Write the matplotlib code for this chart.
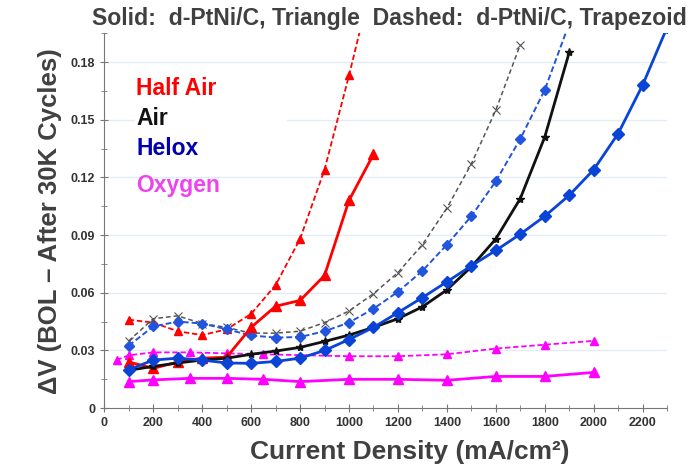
import numpy as np
import matplotlib.pyplot as plt
from matplotlib.patches import Rectangle

plt.rcParams['font.family'] = ['Liberation Sans', 'DejaVu Sans']
plt.rcParams['font.weight'] = 'bold'

# Half Air (red)
half_air_dash_x = [100, 200, 300, 400, 500, 600, 700, 800, 900, 1000, 1100]
half_air_dash_y = [0.046, 0.0445, 0.040, 0.038, 0.041, 0.049, 0.064, 0.088, 0.124, 0.173, 0.225]
half_air_x = [100, 200, 300, 400, 500, 600, 700, 800, 900, 1000, 1100]
half_air_y = [0.024, 0.0207, 0.024, 0.026, 0.0265, 0.042, 0.053, 0.056, 0.069, 0.108, 0.132]

# Air (black / gray)
air_dash_x = [100, 200, 300, 400, 500, 600, 700, 800, 900, 1000, 1100, 1200, 1300, 1400, 1500, 1600, 1700]
air_dash_y = [0.035, 0.0465, 0.048, 0.044, 0.042, 0.039, 0.039, 0.040, 0.0445, 0.0505, 0.0595,
              0.0705, 0.085, 0.104, 0.127, 0.155, 0.189]
air_x = [100, 200, 300, 400, 500, 600, 700, 800, 900, 1000, 1100, 1200, 1300, 1400, 1500, 1600, 1700, 1800, 1900]
air_y = [0.0197, 0.0217, 0.0235, 0.025, 0.026, 0.028, 0.0297, 0.0316, 0.0347, 0.038, 0.042,
         0.0465, 0.0527, 0.0615, 0.0735, 0.088, 0.109, 0.141, 0.185]

# Helox (blue)
helox_dash_x = [100, 200, 300, 400, 500, 600, 700, 800, 900, 1000, 1100, 1200, 1300, 1400, 1500,
                1600, 1700, 1800, 1900]
helox_dash_y = [0.0325, 0.0425, 0.045, 0.044, 0.041, 0.0378, 0.0367, 0.037, 0.040, 0.0445, 0.0517,
                0.0605, 0.0714, 0.085, 0.0998, 0.118, 0.140, 0.1655, 0.20]
helox_x = [100, 200, 300, 400, 500, 600, 700, 800, 900, 1000, 1100, 1200, 1300, 1400, 1500, 1600,
           1700, 1800, 1900, 2000, 2100, 2200, 2300]
helox_y = [0.020, 0.025, 0.026, 0.025, 0.0235, 0.0233, 0.0243, 0.026, 0.030, 0.0357, 0.042, 0.0497,
           0.0575, 0.0657, 0.074, 0.082, 0.0905, 0.0998, 0.1107, 0.124, 0.1428, 0.168, 0.198]

# Oxygen (magenta)
oxy_dash_x = [50, 100, 200, 350, 500, 650, 1000, 1200, 1400, 1600, 1800, 2000]
oxy_dash_y = [0.025, 0.0275, 0.029, 0.029, 0.0285, 0.028, 0.027, 0.027, 0.028, 0.031, 0.033, 0.035]
oxy_x = [100, 200, 350, 500, 650, 800, 1000, 1200, 1400, 1600, 1800, 2000]
oxy_y = [0.0138, 0.0147, 0.0155, 0.0155, 0.015, 0.0138, 0.015, 0.015, 0.0145, 0.0165, 0.0165, 0.0186]

fig = plt.figure(figsize=(7, 4.67), dpi=100)
ax = fig.add_axes([0.149, 0.126, 0.804, 0.803])

ax.set_xlim(0, 2300)
ax.set_ylim(0, 0.195)
ax.set_xticks(np.arange(0, 2201, 200))
ax.set_xticks(np.arange(0, 2301, 100), minor=True)
ax.set_yticks([0, 0.03, 0.06, 0.09, 0.12, 0.15, 0.18])
ax.set_yticklabels(['0', '0.03', '0.06', '0.09', '0.12', '0.15', '0.18'])
ax.set_yticks(np.arange(0, 0.195, 0.015), minor=True)
for y in [0.03, 0.06, 0.09, 0.12, 0.15, 0.18]:
    ax.axhline(y, color='#e2ebf9', lw=1, zorder=0)

# white box behind the labels
ax.add_patch(Rectangle((0.055, 0.66), 0.27, 0.16, transform=ax.transAxes,
                       facecolor='white', edgecolor='none', zorder=0.5))

# dashed series
ax.plot(half_air_dash_x, half_air_dash_y, '--', color='#ff0000', lw=1.3, dashes=(3, 1.5),
        marker='^', ms=6, zorder=3)
ax.plot(air_dash_x, air_dash_y, '--', color='#555555', lw=1.1, dashes=(3, 2),
        marker='x', ms=6, mew=0.8, zorder=3)
ax.plot(helox_dash_x, helox_dash_y, '--', color='#2255dd', lw=1.4, dashes=(3, 1.5),
        marker='D', ms=5, zorder=3)
ax.plot(oxy_dash_x, oxy_dash_y, '--', color='#ff00ff', lw=1.3, dashes=(3, 1.5),
        marker='^', ms=6, zorder=3)

# solid series
ax.plot(half_air_x, half_air_y, '-', color='#ff0000', lw=2, marker='^', ms=7, zorder=4)
ax.plot(air_x, air_y, '-', color='#111111', lw=2, marker='*', ms=6, zorder=4)
ax.plot(helox_x, helox_y, '-', color='#0a44d6', lw=2, marker='D', ms=6, zorder=4)
ax.plot(oxy_x, oxy_y, '-', color='#ff00ff', lw=2, marker='^', ms=7, zorder=4)

labels = ['Half Air', 'Air', 'Helox', 'Oxygen']
label_colors = ['#ff0000', '#111111', '#0000b0', '#ee44ee']
label_y = [0.853, 0.773, 0.693, 0.595]
for txt, c, yy in zip(labels, label_colors, label_y):
    ax.text(0.057, yy, txt, transform=ax.transAxes, color=c, fontsize=16.5,
            fontweight='bold', va='center', ha='left', zorder=6)

for side in ['top', 'right']:
    ax.spines[side].set_visible(False)
for side in ['left', 'bottom']:
    ax.spines[side].set_color('#777777')
ax.tick_params(which='both', direction='inout', colors='#777777', labelcolor='#333333')
ax.tick_params(which='major', length=6, labelsize=9)
ax.tick_params(which='minor', length=4)

ax.set_xlabel('Current Density (mA/cm²)', fontsize=19, fontweight='bold', color='#404040')
ax.xaxis.set_label_coords(0.542, -0.085)
ax.set_ylabel('ΔV (BOL – After 30K Cycles)', fontsize=18.5, fontweight='bold', color='#404040', labelpad=6)
fig.text(0.556, 0.96, 'Solid:  d-PtNi/C, Triangle  Dashed:  d-PtNi/C, Trapezoid',
         ha='center', va='center', fontsize=16.6, fontweight='bold', color='#404040')

fig.savefig('out.png', dpi=100)
